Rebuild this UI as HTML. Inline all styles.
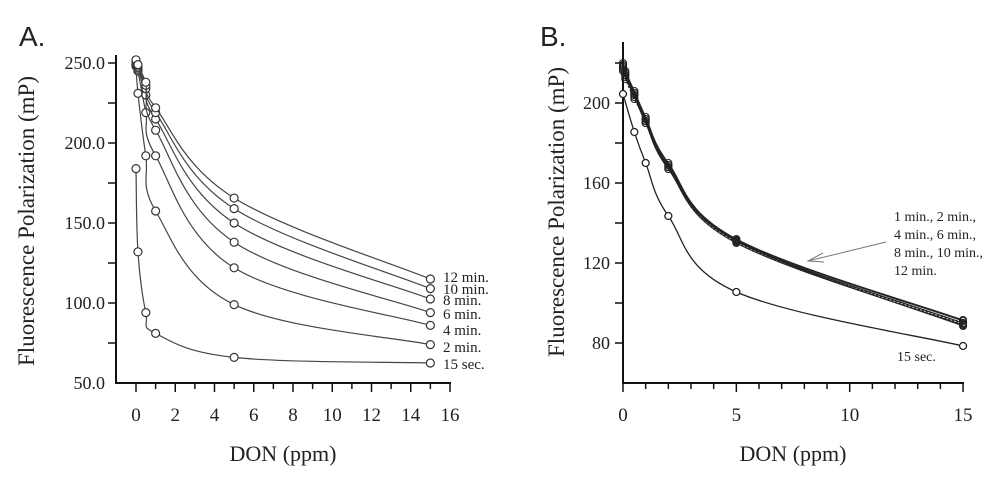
<!DOCTYPE html>
<html><head><meta charset="utf-8"><style>
body{margin:0;background:#fff;width:1000px;height:493px;overflow:hidden}
svg text{font-family:"Liberation Serif",serif;fill:#222}
</style></head><body>
<svg id="fig" width="1000" height="493" viewBox="0 0 1000 493" xmlns="http://www.w3.org/2000/svg">
<text x="19" y="46" style="font-family:'Liberation Sans',sans-serif;font-size:28px">A.</text>
<text x="540" y="46" style="font-family:'Liberation Sans',sans-serif;font-size:28px">B.</text>
<g id="pa"></g>
<g id="pb"></g>
</svg>
<script>
// Chart A data
const aX = [0, 0.1, 0.5, 1, 5, 15];
const aSeriesNames = ["15 sec.", "2 min.", "4 min.", "6 min.", "8 min.", "10 min.", "12 min."];
const a15s = [184, 132, 94, 81, 66, 62.5];
const a2m = [249, 231, 192, 157.5, 99, 74];
const a4m = [248, 245, 219, 192, 122, 86];
const a6m = [249, 246, 230, 208, 138, 94];
const a8m = [250, 247, 234, 215, 150, 102.5];
const a10m = [251, 248, 236, 219, 159, 109];
const a12m = [252, 249, 238, 222, 165.6, 115];
const aYTicks = [50, 100, 150, 200, 250];
const aXTicks = [0, 2, 4, 6, 8, 10, 12, 14, 16];
// Chart B data
const bX15 = [0, 0.5, 1, 2, 5, 15];
const b15s = [204.5, 185.5, 170, 143.5, 105.5, 78.5];
const bX = [0, 0.1, 0.5, 1, 2, 5, 15];
const b1m = [218, 214, 204, 191, 168, 131, 90];
const b2m = [219, 215, 205, 192, 169, 131.5, 91];
const b4m = [217, 213, 203, 190, 167, 130, 89];
const b6m = [220, 216, 206, 193, 170, 132, 91.5];
const b8m = [218, 214, 204, 190, 168, 131, 90];
const b10m = [216, 212, 202, 191, 167, 130.5, 89.5];
const b12m = [219, 215, 205, 192, 169, 131, 88.5];
const bYTicks = [80, 120, 160, 200];
const bXTicks = [0, 5, 10, 15];

const NS = "http://www.w3.org/2000/svg";
function mk(parent, tag, attrs, txt){const e=document.createElementNS(NS,tag);for(const k in attrs)e.setAttribute(k,attrs[k]);if(txt!==undefined)e.textContent=txt;parent.appendChild(e);return e;}
function smooth(pts){
  let d=`M${pts[0][0]},${pts[0][1]}`;
  for(let i=0;i<pts.length-1;i++){
    const p0=pts[Math.max(0,i-1)],p1=pts[i],p2=pts[i+1],p3=pts[Math.min(pts.length-1,i+2)];
    const t=0.18;
    const c1=[p1[0]+(p2[0]-p0[0])*t,p1[1]+(p2[1]-p0[1])*t];
    const c2=[p2[0]-(p3[0]-p1[0])*t,p2[1]-(p3[1]-p1[1])*t];
    d+=` C${c1[0]},${c1[1]} ${c2[0]},${c2[1]} ${p2[0]},${p2[1]}`;
  }
  return d;
}
// ---------- Chart A ----------
const ga=document.getElementById('pa');
const axA=v=>136+v*19.625, ayA=v=>383-(v-50)*1.6;
mk(ga,'line',{x1:116,y1:55,x2:116,y2:383,stroke:'#111','stroke-width':2,});
mk(ga,'line',{x1:115,y1:383,x2:451,y2:383,stroke:'#111','stroke-width':2,});
for(let v=75;v<=250;v+=25){const l=mk(ga,'line',{x1:108,y1:ayA(v),x2:116,y2:ayA(v),stroke:'#111','stroke-width':1.5});

}
aYTicks.forEach(v=>{const t=mk(ga,'text',{x:105,y:ayA(v)+6,'text-anchor':'end','font-size':18},v.toFixed(1));

});
for(let v=0;v<=16;v++){const l=mk(ga,'line',{x1:axA(v),y1:383,x2:axA(v),y2:v%2?389:392,stroke:'#111','stroke-width':1.5});

}
aXTicks.forEach(v=>{const t=mk(ga,'text',{x:axA(v),y:421,'text-anchor':'middle','font-size':19},v);

});
const ta=mk(ga,'text',{x:0,y:0,'text-anchor':'middle','font-size':23,transform:'translate(34,221) rotate(-90)'},'Fluorescence Polarization (mP)');


const xa=mk(ga,'text',{x:283,y:461,'text-anchor':'middle','font-size':22},'DON (ppm)');


const aSeries=[a15s,a2m,a4m,a6m,a8m,a10m,a12m];
aSeries.forEach((s,i)=>{
  const pts=aX.map((x,j)=>[axA(x),ayA(s[j])]);
  const p=mk(ga,'path',{d:smooth(pts),fill:'none',stroke:'#444','stroke-width':1.2});
  
  
  pts.forEach(q=>{const c=mk(ga,'circle',{cx:q[0],cy:q[1],r:4,fill:'#fff',stroke:'#333','stroke-width':1.2});
  
  });
});
const aLabBase=[369,352,335,319,305,294,282];
aSeriesNames.forEach((n,i)=>{const t=mk(ga,'text',{x:443,y:aLabBase[i],'font-size':15},n);

});
// ---------- Chart B ----------
const gb=document.getElementById('pb');
const axB=v=>623+v*22.67, ayB=v=>383-(v-60)*2;
mk(gb,'line',{x1:623,y1:42,x2:623,y2:383,stroke:'#111','stroke-width':2,});
mk(gb,'line',{x1:622,y1:383,x2:964,y2:383,stroke:'#111','stroke-width':2,});
for(let v=80;v<=220;v+=20){const l=mk(gb,'line',{x1:615,y1:ayB(v),x2:623,y2:ayB(v),stroke:'#111','stroke-width':1.5});

}
bYTicks.forEach(v=>{const t=mk(gb,'text',{x:610,y:ayB(v)+6,'text-anchor':'end','font-size':18},v);

});
for(let v=0;v<=15;v++){const l=mk(gb,'line',{x1:axB(v),y1:383,x2:axB(v),y2:v%5?389:392,stroke:'#111','stroke-width':1.5});

}
bXTicks.forEach(v=>{const t=mk(gb,'text',{x:axB(v),y:421,'text-anchor':'middle','font-size':19},v);

});
const tb=mk(gb,'text',{x:0,y:0,'text-anchor':'middle','font-size':23,transform:'translate(564,212) rotate(-90)'},'Fluorescence Polarization (mP)');


const xb=mk(gb,'text',{x:793,y:461,'text-anchor':'middle','font-size':22},'DON (ppm)');


const bGroup=[b1m,b2m,b4m,b6m,b8m,b10m,b12m];
bGroup.forEach((s,i)=>{
  const pts=bX.map((x,j)=>[axB(x),ayB(s[j])]);
  const p=mk(gb,'path',{d:smooth(pts),fill:'none',stroke:'#222','stroke-width':1.1,'stroke-dasharray':i===5?'2,2':'none'});
  
  
  pts.forEach(q=>{const c=mk(gb,'circle',{cx:q[0],cy:q[1],r:3.5,fill:'none',stroke:'#222','stroke-width':1.1});
  
  });
});
{
  const pts=bX15.map((x,j)=>[axB(x),ayB(b15s[j])]);
  const p=mk(gb,'path',{d:smooth(pts),fill:'none',stroke:'#222','stroke-width':1.3});
  
  
  pts.forEach(q=>{const c=mk(gb,'circle',{cx:q[0],cy:q[1],r:3.5,fill:'#fff',stroke:'#222','stroke-width':1.3});
  
  });
}
["1 min., 2 min.,","4 min., 6 min.,","8 min., 10 min.,","12 min."].forEach((n,i)=>{
  const t=mk(gb,'text',{x:894,y:221+i*18,'font-size':14},n);
  
  
});
mk(gb,'line',{x1:886,y1:242,x2:808,y2:261,stroke:'#777','stroke-width':1,});
mk(gb,'path',{d:'M823,253 L808,261 L824,262',fill:'none',stroke:'#777','stroke-width':1,});
const l15=mk(gb,'text',{x:897,y:361,'font-size':14},'15 sec.');


</script>
</body></html>
